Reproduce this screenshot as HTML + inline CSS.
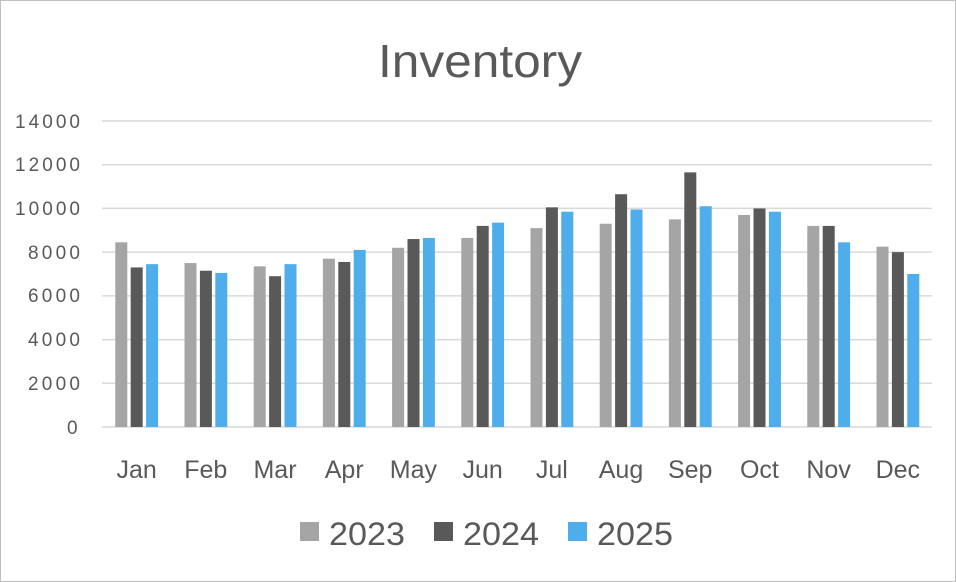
<!DOCTYPE html>
<html><head><style>body{margin:0;background:#fff}svg{display:block}</style></head><body>
<svg width="956" height="582" xmlns="http://www.w3.org/2000/svg" font-family="Liberation Sans, sans-serif">
<rect x="0.5" y="0.5" width="955" height="581" fill="#fff" stroke="#bfbfbf"/>
<text x="378" y="77" font-size="46" fill="#595959" textLength="204" lengthAdjust="spacingAndGlyphs">Inventory</text>
<g stroke="#d9d9d9" stroke-width="1.5">
<line x1="102" x2="932" y1="121" y2="121"/><line x1="102" x2="932" y1="164.7" y2="164.7"/>
<line x1="102" x2="932" y1="208.4" y2="208.4"/><line x1="102" x2="932" y1="252.1" y2="252.1"/>
<line x1="102" x2="932" y1="295.9" y2="295.9"/><line x1="102" x2="932" y1="339.6" y2="339.6"/>
<line x1="102" x2="932" y1="383.3" y2="383.3"/><line x1="102" x2="932" y1="427" y2="427"/>
</g>
<g font-size="19" fill="#595959" lengthAdjust="spacingAndGlyphs">
<text x="15" y="128" textLength="65">14000</text><text x="15" y="171" textLength="65">12000</text><text x="15" y="215" textLength="65">10000</text>
<text x="28" y="259" textLength="52">8000</text><text x="28" y="302" textLength="52">6000</text><text x="28" y="346" textLength="52">4000</text>
<text x="28" y="390" textLength="52">2000</text><text x="67" y="434" textLength="13">0</text>
</g>
<g id="bars"></g>
<g font-size="25" fill="#595959" text-anchor="middle" id="xl"></g>
<g font-size="32" fill="#595959">
<rect x="300" y="522" width="19" height="19" fill="#a5a5a5"/><text x="329" y="545" textLength="76" lengthAdjust="spacingAndGlyphs">2023</text>
<rect x="434" y="522" width="19" height="19" fill="#595959"/><text x="463" y="545" textLength="76" lengthAdjust="spacingAndGlyphs">2024</text>
<rect x="568" y="522" width="19" height="19" fill="#4eadea"/><text x="597" y="545" textLength="76" lengthAdjust="spacingAndGlyphs">2025</text>
</g>
<script>
var d=[[8450,7300,7450],[7500,7150,7050],[7350,6900,7450],[7700,7550,8100],[8200,8600,8650],[8650,9200,9350],[9100,10050,9850],[9300,10650,9950],[9500,11650,10100],[9700,10000,9850],[9200,9200,8450],[8250,8000,7000]];
var m=["Jan","Feb","Mar","Apr","May","Jun","Jul","Aug","Sep","Oct","Nov","Dec"];
var c=["#a5a5a5","#595959","#4eadea"],ns="http://www.w3.org/2000/svg",b=document.getElementById("bars"),x=document.getElementById("xl");
var cw=69.2;
for(var i=0;i<12;i++){for(var j=0;j<3;j++){var r=document.createElementNS(ns,"rect");var h=d[i][j]/14000*306;
r.setAttribute("x",115.3+i*cw+j*15.4);r.setAttribute("width",12);r.setAttribute("y",427-h);r.setAttribute("height",h);r.setAttribute("fill",c[j]);b.appendChild(r);}
var t=document.createElementNS(ns,"text");t.setAttribute("x",136.6+i*cw);t.setAttribute("y",478);t.textContent=m[i];x.appendChild(t);}
</script>
</svg>
</body></html>
